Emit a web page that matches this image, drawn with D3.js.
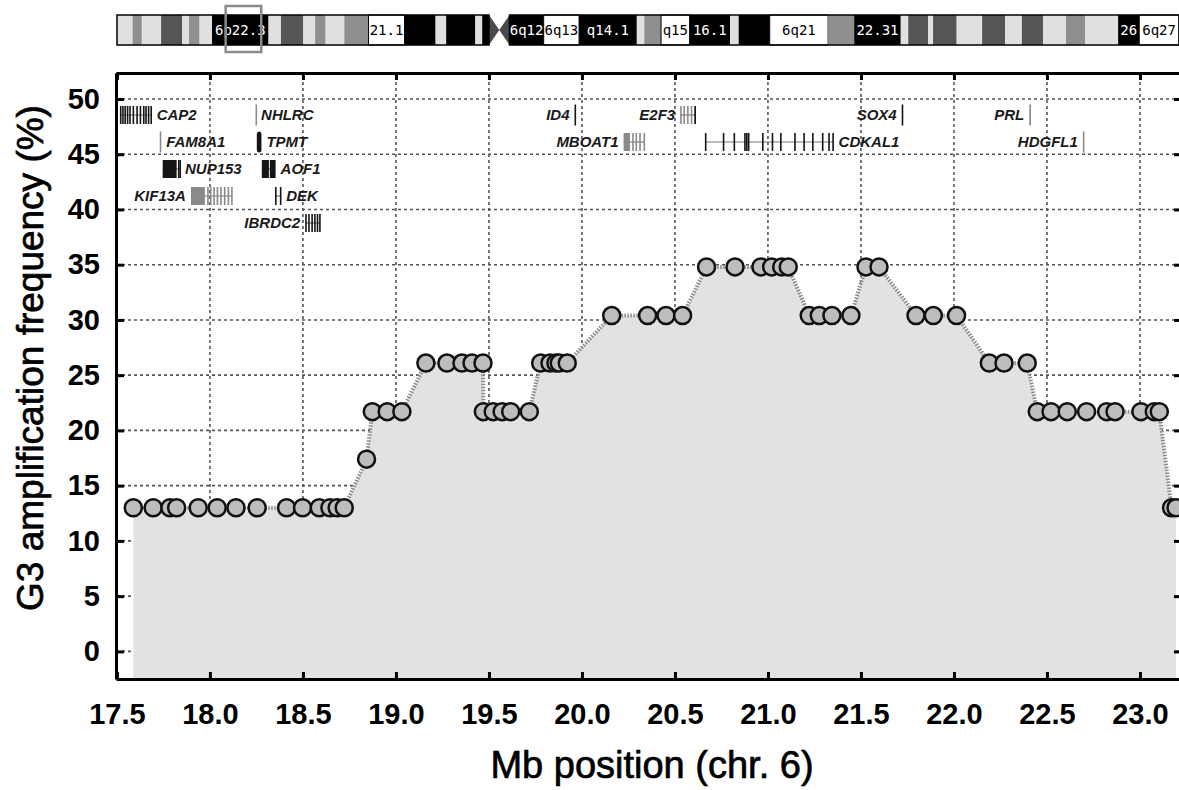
<!DOCTYPE html>
<html>
<head>
<meta charset="utf-8">
<script src="https://cdn.jsdelivr.net/npm/d3@7"></script>
<style>
  body { margin: 0; background: #fff; }
  svg text { font-family: "Liberation Sans", Arial, sans-serif; }
</style>
</head>
<body>
<div id="chart"></div>
<script>
// probe positions (Mb, chr. 6) and G3 amplification frequency (%)
let positions = [
  17.588, 17.695, 17.785, 17.821, 17.937, 18.039, 18.140, 18.254, 18.412, 18.498,
  18.588, 18.645, 18.684, 18.722, 18.842, 18.873, 18.953, 19.032, 19.161, 19.274,
  19.355, 19.409, 19.468, 19.470, 19.523, 19.571, 19.617, 19.717, 19.778, 19.828,
  19.860, 19.878, 19.921, 20.160, 20.353, 20.452, 20.541, 20.670, 20.823, 20.962,
  21.020, 21.074, 21.109, 21.222, 21.276, 21.344, 21.446, 21.527, 21.597, 21.796,
  21.889, 22.014, 22.190, 22.269, 22.394, 22.448, 22.522, 22.609, 22.713, 22.821,
  22.866, 23.005, 23.077, 23.104, 23.170, 23.194
];
let frequencies = [
  13.0, 13.0, 13.0, 13.0, 13.0, 13.0, 13.0, 13.0, 13.0, 13.0,
  13.0, 13.0, 13.0, 13.0, 17.4, 21.7, 21.7, 21.7, 26.1, 26.1,
  26.1, 26.1, 26.1, 21.7, 21.7, 21.7, 21.7, 21.7, 26.1, 26.1,
  26.1, 26.1, 26.1, 30.4, 30.4, 30.4, 30.4, 34.8, 34.8, 34.8,
  34.8, 34.8, 34.8, 30.4, 30.4, 30.4, 30.4, 34.8, 34.8, 30.4,
  30.4, 30.4, 26.1, 26.1, 26.1, 21.7, 21.7, 21.7, 21.7, 21.7,
  21.7, 21.7, 21.7, 21.7, 13.0, 13.0
];

let xTicks = [17.5, 18.0, 18.5, 19.0, 19.5, 20.0, 20.5, 21.0, 21.5, 22.0, 22.5, 23.0];
let yTicks = [0, 5, 10, 15, 20, 25, 30, 35, 40, 45, 50];

// chromosome 6 ideogram bands: [start Mb, end Mb, stain, label]
let bands = [
  [0, 2.5, "light"], [2.5, 4.0, "mid"], [4.0, 7.1, "light"], [7.1, 10.5, "dark"],
  [10.5, 11.6, "light"], [11.6, 13.3, "mid"], [13.3, 15.3, "light"],
  [15.3, 24.4, "black", "6p22.3"], [24.4, 26.4, "light"], [26.4, 30.0, "dark"],
  [30.0, 31.9, "light"], [31.9, 33.6, "mid"], [33.6, 36.6, "light"], [36.6, 40.5, "mid"],
  [40.5, 46.3, "white", "21.1"], [46.3, 51.3, "black"], [51.3, 53.0, "light"],
  [53.0, 57.7, "black"], [57.7, 58.8, "light"], [58.8, 59.9, "black"],
  [63.2, 68.7, "black", "6q12"], [68.7, 74.4, "white", "6q13"], [74.4, 83.7, "black", "q14.1"],
  [83.7, 84.9, "light"], [84.9, 87.6, "mid"], [87.6, 92.2, "white", "q15"],
  [92.2, 98.7, "black", "16.1"], [98.7, 100.1, "light"], [100.1, 105.1, "black"],
  [105.1, 114.5, "white", "6q21"], [114.5, 118.7, "mid"], [118.7, 126.2, "black", "22.31"],
  [126.2, 127.4, "light"], [127.4, 130.6, "dark"], [130.6, 131.4, "light"],
  [131.4, 135.2, "dark"], [135.2, 139.3, "light"], [139.3, 143.0, "dark"],
  [143.0, 145.7, "light"], [145.7, 149.1, "dark"], [149.1, 152.8, "light"],
  [152.8, 155.9, "mid"], [155.9, 161.2, "light"], [161.2, 164.6, "black", "26"],
  [164.6, 171.0, "white", "6q27"]
];
let centromere = [59.9, 63.2];
let chrLength = 171;

// genes in the region: exons as [start, end, type]
let genes = [
  {name: "CAP2", row: 0, side: "right", status: "known", exons: [[17.516,17.518],[17.528,17.530],[17.540,17.542],[17.553,17.555],[17.566,17.568],[17.584,17.586],[17.604,17.606],[17.622,17.624],[17.640,17.643],[17.652,17.656],[17.666,17.670],[17.680,17.687]]},
  {name: "FAM8A1", row: 1, side: "right", status: "predicted", exons: [[17.730,17.738]]},
  {name: "NUP153", row: 2, side: "right", status: "known", exons: [[17.746,17.821],[17.828,17.831],[17.836,17.839]]},
  {name: "KIF13A", row: 3, side: "left", status: "predicted", exons: [[17.898,17.973],[17.985,17.987],[18.000,18.002],[18.018,18.020],[18.036,18.038],[18.055,18.057],[18.075,18.077],[18.095,18.097],[18.114,18.117]]},
  {name: "NHLRC", row: 0, side: "right", status: "predicted", exons: [[18.245,18.248]]},
  {name: "TPMT", row: 1, side: "right", status: "known", exons: [[18.252,18.277]]},
  {name: "AOF1", row: 2, side: "right", status: "known", exons: [[18.279,18.317],[18.322,18.353]]},
  {name: "DEK", row: 3, side: "right", status: "known", exons: [[18.350,18.356],[18.376,18.383]]},
  {name: "IBRDC2", row: 4, side: "left", status: "known", exons: [[18.512,18.515],[18.528,18.531],[18.545,18.548],[18.560,18.563],[18.574,18.580],[18.587,18.591]]},
  {name: "ID4", row: 0, side: "left", status: "known", exons: [[19.960,19.963]]},
  {name: "E2F3", row: 0, side: "left", status: "predicted", exons: [[20.528,20.530],[20.545,20.547],[20.565,20.567],[20.585,20.587],[20.604,20.613,"cds"]]},
  {name: "MBOAT1", row: 1, side: "left", status: "predicted", exons: [[20.224,20.258],[20.270,20.272],[20.288,20.290],[20.308,20.310],[20.331,20.335]]},
  {name: "CDKAL1", row: 1, side: "right", status: "known", exons: [[20.661,20.669],[20.757,20.759],[20.815,20.817],[20.872,20.874],[20.882,20.884],[20.892,20.894],[20.968,20.970],[21.020,21.022],[21.065,21.067],[21.141,21.143],[21.190,21.192],[21.237,21.239],[21.290,21.292],[21.324,21.326],[21.346,21.353]]},
  {name: "SOX4", row: 0, side: "left", status: "known", exons: [[21.719,21.722]]},
  {name: "PRL", row: 0, side: "left", status: "predicted", exons: [[22.405,22.414]]},
  {name: "HDGFL1", row: 1, side: "left", status: "predicted", exons: [[22.693,22.696]]}
];

let width = 1179, height = 790;

let svg = d3.select("#chart")
            .append("svg")
            .attr("width", width)
            .attr("height", height);

let x = d3.scaleLinear().domain([17.495, 23.226]).range([116, 1182]);
let y = d3.scaleLinear().domain([-2.5, 52.35]).range([679, 73]);

let data = positions.map((p, i) => ({pos: p, freq: frequencies[i]}));

// grid
let grid = svg.append("g")
              .attr("stroke", "#555")
              .attr("stroke-width", 1.6)
              .attr("stroke-dasharray", "3,3");
grid.selectAll(".vx").data(xTicks.slice(1)).join("line")
    .attr("x1", d => x(d)).attr("x2", d => x(d))
    .attr("y1", y.range()[0]).attr("y2", y.range()[1]);
grid.selectAll(".hy").data(yTicks).join("line")
    .attr("x1", x.range()[0]).attr("x2", x.range()[1])
    .attr("y1", d => y(d)).attr("y2", d => y(d));

// filled area under the profile
svg.append("path")
   .datum(data)
   .attr("d", d3.area().x(d => x(d.pos)).y0(y(y.domain()[0])).y1(d => y(d.freq)))
   .attr("fill", "#e2e2e2");

svg.append("path")
   .datum(data)
   .attr("d", d3.line().x(d => x(d.pos)).y(d => y(d.freq)))
   .attr("fill", "none")
   .attr("stroke", "#8c8c8c")
   .attr("stroke-width", 4)
   .attr("stroke-dasharray", "1.5,1.5");

svg.append("g")
   .selectAll("circle")
   .data(data)
   .join("circle")
   .attr("cx", d => x(d.pos))
   .attr("cy", d => y(d.freq))
   .attr("r", 8.5)
   .attr("fill", "#bdbdbd")
   .attr("stroke", "#111")
   .attr("stroke-width", 2.5);

// genes
let rowY = d3.scalePoint().domain([0, 1, 2, 3, 4]).range([115, 223]);
let tone = d3.scaleOrdinal().domain(["known", "predicted"]).range(["#151515", "#8a8a8a"]);

svg.append("g")
   .selectAll("g")
   .data(genes)
   .join("g")
   .each(function(g) {
     let sel = d3.select(this);
     let cy = rowY(g.row);
     let s = d3.min(g.exons, e => e[0]), e = d3.max(g.exons, e => e[1]);
     let hgt = g.exons.length > 1 ? 18 : 21;
     if (g.exons.length > 1) {
       sel.append("line")
          .attr("x1", x(s)).attr("x2", x(e))
          .attr("y1", cy).attr("y2", cy)
          .attr("stroke", "#777").attr("stroke-width", 1.2);
     }
     sel.selectAll("rect").data(g.exons).join("rect")
        .attr("x", d => x(d[0]))
        .attr("width", d => Math.max(1.6, x(d[1]) - x(d[0])))
        .attr("y", cy - hgt / 2)
        .attr("height", hgt)
        .attr("rx", g.name === "TPMT" ? 2.5 : 0)
        .attr("fill", d => d[2] === "cds" ? "#111" : tone(g.status));
     sel.append("text")
        .attr("x", g.side === "right" ? x(e) + 5 : x(s) - 5)
        .attr("y", cy)
        .attr("dy", "0.35em")
        .attr("text-anchor", g.side === "right" ? "start" : "end")
        .attr("font-size", 15)
        .attr("font-weight", "bold")
        .attr("font-style", "italic")
        .attr("fill", "#1a1a1a")
        .text(g.name);
   });

// axes
function styleAxis(g) {
  g.select(".domain").attr("stroke-width", 3);
  g.selectAll(".tick line").attr("stroke-width", 3);
  g.attr("font-family", '"Liberation Sans", Arial, sans-serif')
   .attr("font-size", 29)
   .attr("font-weight", "bold");
}

svg.append("g")
   .attr("transform", `translate(0,${y.range()[0]})`)
   .call(d3.axisBottom(x).tickValues(xTicks).tickFormat(d3.format(".1f"))
           .tickSize(-7).tickSizeOuter(0).tickPadding(24))
   .call(styleAxis);

svg.append("g")
   .attr("transform", `translate(0,${y.range()[1]})`)
   .call(d3.axisTop(x).tickValues(xTicks).tickFormat("").tickSize(-7).tickSizeOuter(0))
   .call(styleAxis);

svg.append("g")
   .attr("transform", `translate(${x.range()[0]},0)`)
   .call(d3.axisLeft(y).tickValues(yTicks).tickSize(-8).tickSizeOuter(0).tickPadding(16))
   .call(styleAxis);

svg.append("g")
   .attr("transform", `translate(${x.range()[1]},0)`)
   .call(d3.axisRight(y).tickValues(yTicks).tickFormat("").tickSize(-8).tickSizeOuter(0))
   .call(styleAxis);

svg.append("text")
   .text("Mb position (chr. 6)")
   .attr("x", 652)
   .attr("y", 778)
   .attr("text-anchor", "middle")
   .attr("font-size", 38)
   .attr("stroke", "#000")
   .attr("stroke-width", 0.7);

svg.append("text")
   .text("G3 amplification frequency (%)")
   .attr("transform", "translate(43,358) rotate(-90)")
   .attr("text-anchor", "middle")
   .attr("font-size", 37)
   .attr("stroke", "#000")
   .attr("stroke-width", 0.7);

// chromosome ideogram
let ideo = d3.scaleLinear().domain([0, chrLength]).range([117, 1179]);
let ideoTop = 15, ideoH = 30;
let stain = d3.scaleOrdinal()
              .domain(["light", "mid", "dark", "black", "white"])
              .range(["#e0e0e0", "#8f8f8f", "#555", "#000", "#fff"]);

let ig = svg.append("g");
ig.selectAll("rect.band").data(bands).join("rect")
  .attr("class", "band")
  .attr("x", d => ideo(d[0]))
  .attr("width", d => ideo(d[1]) - ideo(d[0]))
  .attr("y", ideoTop)
  .attr("height", ideoH)
  .attr("fill", d => stain(d[2]))
  .attr("stroke", d => d[2] === "white" ? "#000" : "none")
  .attr("stroke-width", 1);

let c0 = ideo(centromere[0]), c1 = ideo(centromere[1]), cm = (c0 + c1) / 2;
ig.append("path")
  .attr("d", `M${c0},${ideoTop}L${cm},${ideoTop + ideoH / 2}L${c0},${ideoTop + ideoH}Z` +
             `M${c1},${ideoTop}L${cm},${ideoTop + ideoH / 2}L${c1},${ideoTop + ideoH}Z`)
  .attr("fill", "#4a4a4a");

ig.append("rect")
  .attr("x", ideo(0)).attr("width", c0 - ideo(0))
  .attr("y", ideoTop).attr("height", ideoH)
  .attr("fill", "none").attr("stroke", "#000").attr("stroke-width", 1.5);
ig.append("rect")
  .attr("x", c1).attr("width", ideo(chrLength) - c1)
  .attr("y", ideoTop).attr("height", ideoH)
  .attr("fill", "none").attr("stroke", "#000").attr("stroke-width", 1.5);

ig.selectAll("text").data(bands.filter(d => d[3])).join("text")
  .attr("x", d => (ideo(d[0]) + ideo(d[1])) / 2)
  .attr("y", ideoTop + ideoH / 2)
  .attr("dy", "0.36em")
  .attr("text-anchor", "middle")
  .style("font-family", '"DejaVu Sans Mono", monospace')
  .attr("font-size", 14)
  .attr("fill", d => d[2] === "black" ? "#fff" : "#000")
  .text(d => d[3]);

// region shown in the plot
ig.append("rect")
  .attr("x", ideo(x.domain()[0]))
  .attr("width", ideo(x.domain()[1]) - ideo(x.domain()[0]))
  .attr("y", 6)
  .attr("height", 46)
  .attr("fill", "none")
  .attr("stroke", "#8a8a8a")
  .attr("stroke-width", 2.5);
</script>
</body>
</html>
